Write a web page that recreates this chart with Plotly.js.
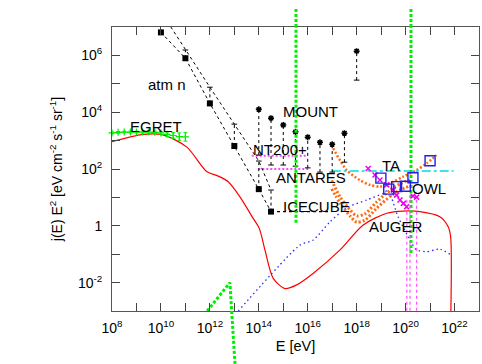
<!DOCTYPE html>
<html><head><meta charset="utf-8">
<script src="https://cdn.plot.ly/plotly-3.0.1.min.js"></script>
<style>html,body{margin:0;padding:0;background:#fff}</style>
</head><body><div id="chart" style="width:482px;height:364px"></div>
<script>
// All values are stored as exponents: log10(E / eV) and log10(j(E) E^2)
const xMajor = [8,10,12,14,16,18,20,22];
const xMinor = [9,11,13,15,17,19,21,23];
const xTickLabels = ['10<sup>8</sup>','10<sup>10</sup>','10<sup>12</sup>','10<sup>14</sup>','10<sup>16</sup>','10<sup>18</sup>','10<sup>20</sup>','10<sup>22</sup>'];
const yMajor = [-2,0,2,4,6];
const yMinor = [-3,-1,1,3,5,7];
const yTickLabels = ['10<sup>-2</sup>','1','10<sup>2</sup>','10<sup>4</sup>','10<sup>6</sup>'];

// red solid model curve
const redE = [8.0, 9.27, 10.08, 11.06, 11.87, 12.34, 12.75, 13.23, 13.77, 14.02, 14.25, 14.59, 15.07, 15.55, 16.23, 17.32, 18.27, 19.23, 19.90, 20.59, 21.40, 21.74, 21.84, 21.84];
const redF = [2.96, 3.22, 3.20, 2.77, 1.91, 1.75, 1.55, 1.02, 0.26, -0.09, -0.85, -1.85, -2.21, -2.08, -1.67, -0.85, 0.03, 0.44, 0.52, 0.50, 0.32, -0.03, -0.38, -3.5];

// blue dotted model curve
const blueE = [13.16, 15.68, 16.23, 16.91, 17.59, 18.41, 19.09, 19.28, 19.69, 20.25, 20.45, 20.86, 21.40, 21.81];
const blueF = [-3.0, -0.68, -0.50, 0.14, 0.64, 0.91, 1.14, 1.26, 0.32, -0.61, -0.85, -0.91, -0.82, -1.0];

// orange dotted curves
const orangeE = [17.04, 17.59, 18.13, 18.54, 18.95, 19.36, 19.90, 20.45, 20.86, 21.27];
const orangeF = [2.73, 1.96, 1.61, 1.44, 1.38, 1.50, 1.73, 1.96, 2.20, 2.49];
const orangeBandE = [16.98, 17.32, 17.73, 18.0, 18.34, 18.82, 19.36, 19.77, 20.18];
const orangeBandHi = [1.60, 1.02, 0.56, 0.35, 0.42, 0.84, 1.25, 1.48, 1.62];
const orangeBandLo = [1.30, 0.80, 0.34, 0.13, 0.20, 0.62, 1.03, 1.26, 1.40];

// cyan dash-dot (TA)
const cyanE = [16.98, 21.96];
const cyanF = [1.93, 1.93];

// NT200+ and ANTARES sensitivities
const nt200E = [13.71, 15.95];
const nt200F = [2.47, 2.47];
const antaresE = [13.98, 16.02];
const antaresF = [2.0, 2.0];

// atmospheric neutrinos
const atmE = [10.0, 11.0, 12.0, 13.0, 14.0, 14.5];
const atmF = [6.81, 5.90, 4.31, 2.81, 1.29, 0.50];
const atmUpF = [7.54, 6.19, 4.88, 3.58, 2.28, 1.26];
// IceCube (black dotted)
const iceE = [14.5, 16.91];
const iceF = [0.50, 0.50];

// MOUNT limits
const mountE = [14.0, 14.5, 15.0, 15.5, 16.0, 16.5, 17.0, 17.5, 18.0];
const mountTop = [4.10, 3.79, 3.55, 3.31, 3.12, 2.94, 2.87, 3.26, 6.15];
const mountBot = [2.49, 2.14, 2.14, 2.10, 2.04, 1.89, 1.89, 2.24, 5.13];

// EGRET
const egretE = [8.0, 8.25, 8.5, 8.75, 9.0, 9.25, 9.5, 9.75, 10.0, 10.25, 10.5, 10.75, 11.0];
const egretF = [3.27, 3.29, 3.30, 3.30, 3.30, 3.30, 3.30, 3.29, 3.27, 3.22, 3.18, 3.14, 3.13];
const egretErr = [0.03, 0.03, 0.03, 0.03, 0.03, 0.03, 0.04, 0.04, 0.05, 0.08, 0.10, 0.13, 0.15];

// green dotted lines
const green1E = [15.52, 15.52];
const green1F = [0.11, 7.0];
const green2E = [20.22, 20.22];
const green2F = [-0.96, 7.0];
const green3E = [11.89, 12.82, 12.89];
const green3F = [-3.0, -2.0, -3.0];

// AUGER
const augerE = [18.47, 18.75, 18.95, 19.23, 19.50, 19.63, 19.77, 19.91, 20.04, 20.30, 20.45];
const augerF = [2.02, 1.79, 1.61, 1.44, 1.26, 1.08, 0.91, 0.79, 0.67, 1.05, 1.01];
const augerVE = [20.05, 20.18, 20.45];
const augerVTop = [0.95, 1.05, 1.01];
const augerVBot = [-3.2, -3.2, -3.2];

// TA / OWL squares
const taE = [18.99, 19.31, 19.63, 19.99, 20.30, 21.0];
const taF = [1.68, 1.29, 1.38, 1.39, 1.69, 2.29];

const P = v => Math.pow(10, v);
function segs(xs, lo, hi) {
  const x = [], y = [];
  for (let i = 0; i < xs.length; i++) { x.push(P(xs[i]), P(xs[i]), null); y.push(P(lo[i]), P(hi[i]), null); }
  return {x, y};
}
const FONT = 'Liberation Sans, Arial, sans-serif';
const GREEN = '#00ee00';
const GDOT = '3px,2px';

const atmSeg = segs(atmE, atmF, atmUpF);
const mountSeg = segs(mountE, mountBot, mountTop);
const augerSeg = segs(augerVE, augerVBot, augerVTop);

const traces = [
  {x: redE.map(P), y: redF.map(P), mode: 'lines', line: {color: '#ff0000', width: 1.2, shape: 'spline', smoothing: 0.8}},
  {x: blueE.map(P), y: blueF.map(P), mode: 'lines', line: {color: '#2a2aff', width: 1.3, dash: '1.5px,3px', shape: 'spline', smoothing: 0.6}},
  {x: orangeE.map(P), y: orangeF.map(P), mode: 'lines', line: {color: '#ff6a10', width: 2.5, dash: '2px,2px', shape: 'spline', smoothing: 0.8}},
  {x: orangeBandE.map(P), y: orangeBandHi.map(P), mode: 'lines', line: {color: '#ff6a10', width: 3, dash: '2px,2px', shape: 'spline', smoothing: 0.8}},
  {x: orangeBandE.map(P), y: orangeBandLo.map(P), mode: 'lines', line: {color: '#ff6a10', width: 3, dash: '2px,2px', shape: 'spline', smoothing: 0.8}},
  {x: cyanE.map(P), y: cyanF.map(P), mode: 'lines', line: {color: '#00dddd', width: 1.5, dash: 'dashdot'}},
  {x: nt200E.map(P), y: nt200F.map(P), mode: 'lines', line: {color: '#ff44ff', width: 2, dash: '2px,2px'}},
  {x: antaresE.map(P), y: antaresF.map(P), mode: 'lines', line: {color: '#ff44ff', width: 2, dash: '2px,2px'}},
  {x: atmSeg.x, y: atmSeg.y, mode: 'lines', line: {color: '#000', width: 1, dash: 'dot'}},
  {x: atmE.map(P), y: atmUpF.map(P), mode: 'lines+markers', line: {color: '#000', width: 1, dash: 'dot'}, marker: {symbol: 'line-ew-open', size: 4, color: '#000', line: {width: 1, color: '#000'}}},
  {x: atmE.map(P), y: atmF.map(P), mode: 'lines+markers', line: {color: '#000', width: 1, dash: 'dot'}, marker: {symbol: 'square', size: 6, color: '#000'}},
  {x: iceE.map(P), y: iceF.map(P), mode: 'lines', line: {color: '#000', width: 1.2, dash: 'dot'}},
  {x: mountSeg.x, y: mountSeg.y, mode: 'lines', line: {color: '#000', width: 1, dash: 'dot'}},
  {x: mountE.map(P), y: mountBot.map(P), mode: 'markers', marker: {symbol: 'line-ew-open', size: 4, color: '#000', line: {width: 1, color: '#000'}}},
  {x: mountE.map(P), y: mountTop.map(P), mode: 'markers', marker: {symbol: 'asterisk-open', size: 5, color: '#000', line: {width: 1.5, color: '#000'}}},
  {x: egretE.map(P), y: egretF.map(P), mode: 'markers', cliponaxis: false,
   marker: {symbol: 'cross-thin-open', size: 5, color: GREEN, line: {width: 1.2, color: GREEN}},
   error_y: {type: 'data', symmetric: false, array: egretF.map((f, i) => P(f + egretErr[i]) - P(f)), arrayminus: egretF.map((f, i) => P(f) - P(f - egretErr[i])), color: GREEN, thickness: 1, width: 2}},
  {x: green1E.map(P), y: green1F.map(P), mode: 'lines', line: {color: GREEN, width: 3, dash: GDOT}},
  {x: green2E.map(P), y: green2F.map(P), mode: 'lines', line: {color: GREEN, width: 3, dash: GDOT}},
  {x: green3E.map(P), y: green3F.map(P), mode: 'lines', line: {color: GREEN, width: 3, dash: GDOT}},
  {x: augerSeg.x, y: augerSeg.y, mode: 'lines', line: {color: '#ff55ff', width: 1.2, dash: 'dot'}},
  {x: augerE.map(P), y: augerF.map(P), mode: 'markers', marker: {symbol: 'x-thin-open', size: 5, color: '#ee00ee', line: {width: 1.5, color: '#ee00ee'}}},
  {x: taE.map(P), y: taF.map(P), mode: 'markers', marker: {symbol: 'square-open', size: 10, color: '#2020ee', line: {width: 1.4, color: '#2020ee'}}}
];

const annFont = {family: FONT, size: 15, color: '#000'};
const labels = [
  ['atm n', 10.25, 4.99], ['EGRET', 9.78, 3.51], ['MOUNT', 16.11, 4.04], ['NT200+', 14.87, 2.69],
  ['ANTARES', 16.14, 1.71], ['ICECUBE', 16.37, 0.67], ['TA', 19.40, 2.14], ['OWL', 20.95, 1.32], ['AUGER', 19.59, -0.03]
];
const annotations = labels.map(l => ({text: l[0], x: l[1], y: l[2], xref: 'x', yref: 'y', showarrow: false, font: annFont, xanchor: 'center', yanchor: 'middle'}));

const gLine = {color: GREEN, width: 3, dash: GDOT};
const shapes = [
  {type: 'line', xref: 'x', yref: 'paper', x0: P(green1E[0]), x1: P(green1E[0]), y0: 1, y1: 1.067, line: gLine},
  {type: 'line', xref: 'x', yref: 'paper', x0: P(green2E[0]), x1: P(green2E[0]), y0: 1, y1: 1.067, line: gLine},
  {type: 'line', xref: 'x', yref: 'paper', x0: P(green3E[2]), x1: P(13.03), y0: 0, y1: -0.19, line: gLine}
];

const axisCommon = {
  type: 'log', showgrid: false, zeroline: false, showline: true, linecolor: '#555', linewidth: 1,
  mirror: 'ticks', ticks: 'inside', ticklen: 8, tickcolor: '#444', tickwidth: 1,
  tickfont: {family: FONT, size: 14, color: '#000'}, tickmode: 'array'
};
const minorCommon = {tickmode: 'array', ticks: 'inside', ticklen: 8, tickcolor: '#444', tickwidth: 1, showgrid: false};

const layout = {
  width: 482, height: 364,
  margin: {l: 112, r: 3, t: 27, b: 53},
  paper_bgcolor: '#fff', plot_bgcolor: '#fff',
  showlegend: false,
  font: {family: FONT},
  xaxis: Object.assign({}, axisCommon, {
    range: [8, 23], tickvals: xMajor.map(P), ticktext: xTickLabels, ticklabelstandoff: 4,
    minor: Object.assign({}, minorCommon, {tickvals: xMinor.map(P)}),
    title: {text: 'E [eV]', font: {family: FONT, size: 14.5, color: '#000'}, standoff: 6}
  }),
  yaxis: Object.assign({}, axisCommon, {
    range: [-3, 7], tickvals: yMajor.map(P), ticktext: yTickLabels, ticklabelstandoff: 6,
    minor: Object.assign({}, minorCommon, {tickvals: yMinor.map(P)}),
    title: {text: 'j(E) E<sup>2</sup> [eV cm<sup>-2</sup> s<sup>-1</sup> sr<sup>-1</sup>]', font: {family: FONT, size: 14, color: '#000'}, standoff: 12}
  }),
  annotations: annotations,
  shapes: shapes
};

Plotly.newPlot('chart', traces, layout, {displayModeBar: false, staticPlot: true});
</script>
</body></html>
